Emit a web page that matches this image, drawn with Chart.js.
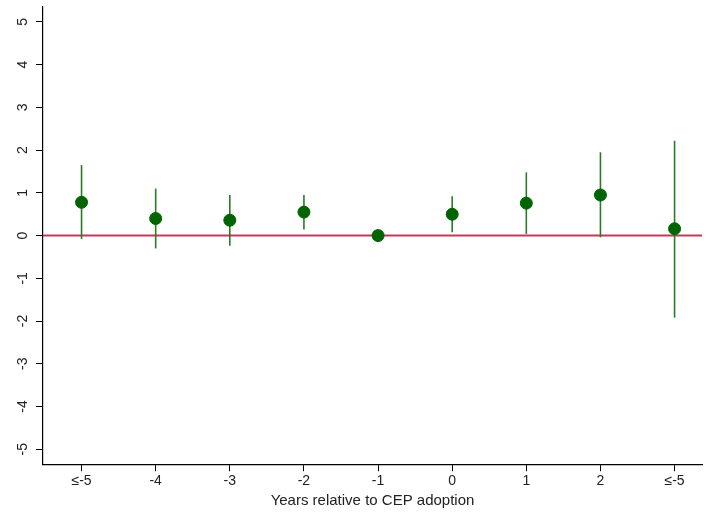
<!DOCTYPE html>
<html>
<head>
<meta charset="utf-8">
<script src="https://cdn.jsdelivr.net/npm/chart.js@4/dist/chart.umd.min.js"></script>
<style>
  html, body { margin: 0; padding: 0; background: #fff; }
  #wrap { width: 709px; height: 516px; }
</style>
</head>
<body>
<div id="wrap"><canvas id="graph"></canvas></div>
<script>
var categories = ['≤-5', '-4', '-3', '-2', '-1', '0', '1', '2', '≤-5'];
var estimates = [0.78, 0.40, 0.36, 0.55, 0.00, 0.50, 0.76, 0.95, 0.16];
var ciLow = [-0.08, -0.30, -0.24, 0.14, 0.00, 0.08, 0.04, -0.04, -1.92];
var ciHigh = [1.65, 1.10, 0.95, 0.95, 0.00, 0.92, 1.48, 1.95, 2.22];
var yTicks = [-5, -4, -3, -2, -1, 0, 1, 2, 3, 4, 5];

var green = '#006400';
var barGreen = '#2a7a2a';

var points = estimates.map(function (v, i) { return { x: i, y: v }; });

// error bars + zero line + rotated y labels
var extras = {
  id: 'extras',
  beforeDatasetsDraw: function (chart) {
    var ctx = chart.ctx, xs = chart.scales.x, ys = chart.scales.y;
    ctx.save();
    ctx.strokeStyle = '#c8375a';
    ctx.lineWidth = 2;
    ctx.beginPath();
    ctx.moveTo(chart.chartArea.left, ys.getPixelForValue(0));
    ctx.lineTo(chart.chartArea.right, ys.getPixelForValue(0));
    ctx.stroke();
    ctx.strokeStyle = barGreen;
    ctx.lineWidth = 1.6;
    for (var i = 0; i < estimates.length; i++) {
      if (ciLow[i] === ciHigh[i]) continue;
      var px = xs.getPixelForValue(i);
      ctx.beginPath();
      ctx.moveTo(px, ys.getPixelForValue(ciLow[i]));
      ctx.lineTo(px, ys.getPixelForValue(ciHigh[i]));
      ctx.stroke();
    }
    ctx.restore();
  },
  afterDraw: function (chart) {
    var ctx = chart.ctx, ys = chart.scales.y;
    ctx.save();
    ctx.fillStyle = '#222';
    ctx.font = '14px Arial, "Liberation Sans"';
    ctx.textAlign = 'center';
    ctx.textBaseline = 'middle';
    yTicks.forEach(function (t) {
      ctx.save();
      ctx.translate(23, ys.getPixelForValue(t));
      ctx.rotate(-Math.PI / 2);
      ctx.fillText(String(t), 0, 0);
      ctx.restore();
    });
    ctx.restore();
  }
};

new Chart(document.getElementById('graph'), {
  type: 'scatter',
  data: {
    datasets: [{
      data: points,
      backgroundColor: green,
      borderColor: green,
      pointRadius: 6,
      pointHoverRadius: 6
    }]
  },
  options: {
    responsive: true,
    maintainAspectRatio: false,
    animation: false,
    layout: { padding: { left: 36, top: 4, right: 0, bottom: 6 } },
    plugins: { legend: { display: false }, tooltip: { enabled: false } },
    scales: {
      x: {
        type: 'linear',
        min: -0.52,
        max: 8.37,
        afterBuildTicks: function (axis) {
          axis.ticks = categories.map(function (c, i) { return { value: i }; });
        },
        ticks: {
          color: '#222',
          font: { size: 14, family: 'Arial, "Liberation Sans"' },
          maxRotation: 0,
          padding: 2,
          callback: function (v) { return categories[v]; }
        },
        grid: { display: true, drawOnChartArea: false, drawTicks: true, tickLength: 7, tickColor: '#000' },
        border: { display: true, color: '#000', width: 1.2 },
        title: {
          display: true,
          text: 'Years relative to CEP adoption',
          color: '#222',
          font: { size: 15, family: 'Arial, "Liberation Sans"' },
          padding: { top: 0, bottom: 0 }
        }
      },
      y: {
        min: -5.35,
        max: 5.35,
        afterBuildTicks: function (axis) {
          axis.ticks = yTicks.map(function (t) { return { value: t }; });
        },
        ticks: { display: false },
        grid: { display: true, drawOnChartArea: false, drawTicks: true, tickLength: 7, tickColor: '#000' },
        border: { display: true, color: '#000', width: 1.2 }
      }
    }
  },
  plugins: [extras]
});
</script>
</body>
</html>
